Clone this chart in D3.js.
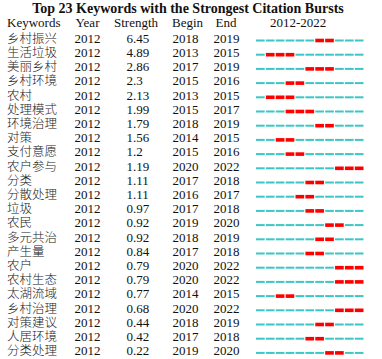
<!DOCTYPE html>
<html lang="en">
<head>
<meta charset="UTF-8">
<title>Citation Bursts</title>
<style>
  body { margin: 0; background: #fff; }
  svg text { font-family: "Liberation Serif", "Times New Roman", "Noto Sans CJK SC", serif; fill: #111; }
  svg text.kw { font-family: "Noto Sans CJK SC", sans-serif; font-weight: 300; fill: #222; }
</style>
</head>
<body>
<div id="chart"></div>
<script src="https://cdn.jsdelivr.net/npm/d3@7/dist/d3.min.js"></script>
<script>
  const keywords = ["乡村振兴", "生活垃圾", "美丽乡村", "乡村环境", "农村", "处理模式", "环境治理", "对策",
    "支付意愿", "农户参与", "分类", "分散处理", "垃圾", "农民", "多元共治", "产生量", "农户", "农村生态",
    "太湖流域", "乡村治理", "对策建议", "人居环境", "分类处理"];
  const startYears = [2012, 2012, 2012, 2012, 2012, 2012, 2012, 2012, 2012, 2012, 2012, 2012,
    2012, 2012, 2012, 2012, 2012, 2012, 2012, 2012, 2012, 2012, 2012];
  const strengths = ["6.45", "4.89", "2.86", "2.3", "2.13", "1.99", "1.79", "1.56", "1.2", "1.19", "1.11", "1.11",
    "0.97", "0.92", "0.92", "0.84", "0.79", "0.79", "0.77", "0.68", "0.44", "0.42", "0.22"];
  const begins = [2018, 2013, 2017, 2015, 2013, 2015, 2018, 2014, 2015, 2020, 2017, 2016,
    2017, 2019, 2018, 2017, 2020, 2020, 2014, 2020, 2018, 2017, 2019];
  const ends = [2019, 2015, 2019, 2016, 2015, 2017, 2019, 2015, 2016, 2022, 2018, 2017,
    2018, 2020, 2019, 2018, 2022, 2022, 2015, 2022, 2019, 2018, 2020];
  const years = d3.range(2012, 2023);
  const headers = ["Keywords", "Year", "Strength", "Begin", "End", "2012-2022"];

  const W = 382, H = 359;
  const svg = d3.select("#chart").append("svg").attr("width", W).attr("height", H);

  // row positions
  const y = d3.scaleBand().domain(d3.range(keywords.length)).range([33.4, 360]);
  // year segments
  const x = d3.scaleBand().domain(years).range([256, 363.5]).paddingInner(0.12);

  svg.append("text")
    .attr("x", 188).attr("y", 13)
    .attr("text-anchor", "middle")
    .style("font-size", "14px").style("font-weight", "bold")
    .text("Top 23 Keywords with the Strongest Citation Bursts");

  const headX = [7, 75.5, 114, 172, 215.5, 270];
  svg.selectAll("text.head").data(headers).join("text")
    .attr("class", "head")
    .attr("x", (d, i) => headX[i]).attr("y", 27.3)
    .style("font-size", "13px")
    .text(d => d);

  const rows = svg.selectAll("g.row").data(keywords).join("g")
    .attr("class", "row")
    .attr("transform", (d, i) => `translate(0,${y(i) + y.bandwidth() / 2})`);

  const cols = [
    { x: 7, v: (d, i) => keywords[i], cls: "kw" },
    { x: 74.5, v: (d, i) => startYears[i] },
    { x: 126.5, v: (d, i) => strengths[i] },
    { x: 172.5, v: (d, i) => begins[i] },
    { x: 213.5, v: (d, i) => ends[i] }
  ];
  cols.forEach(c => {
    rows.append("text")
      .attr("class", c.cls || null)
      .attr("x", c.x).attr("y", 2.3)
      .style("font-size", c.cls ? "12.5px" : "13px")
      .text(c.v);
  });

  rows.each(function (d, i) {
    d3.select(this).selectAll("rect").data(years).join("rect")
      .attr("x", yr => x(yr))
      .attr("width", x.bandwidth())
      .attr("y", yr => (yr >= begins[i] && yr <= ends[i]) ? -1.8 : -1)
      .attr("height", yr => (yr >= begins[i] && yr <= ends[i]) ? 3.6 : 2)
      .attr("fill", yr => (yr >= begins[i] && yr <= ends[i]) ? "#ff0000" : "#3cc6c6");
  });
</script>
</body>
</html>
